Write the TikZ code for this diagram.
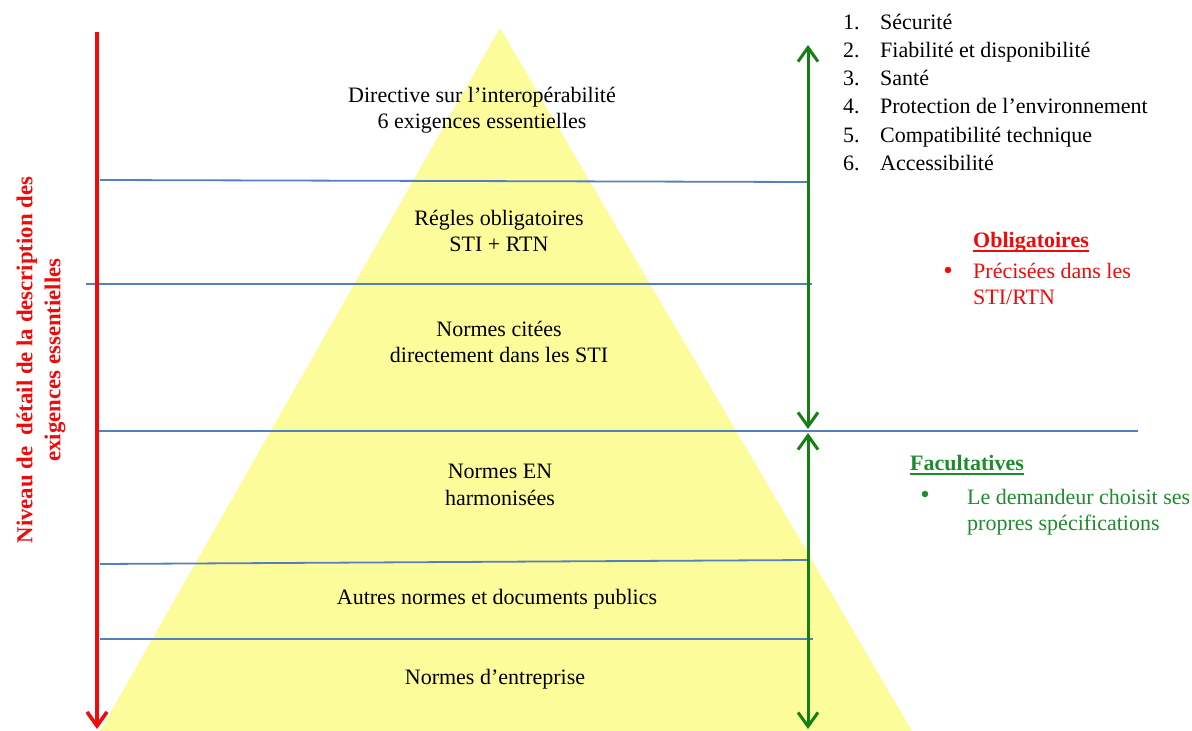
\documentclass[tikz,border=0pt]{standalone}
\usepackage{fontspec}
\setmainfont{Liberation Serif}
\usetikzlibrary{arrows.meta}
\definecolor{pyr}{RGB}{253,252,155}
\definecolor{bl}{RGB}{85,128,190}
\definecolor{rd}{RGB}{240,10,10}
\definecolor{gr}{RGB}{20,128,20}
\definecolor{grt}{RGB}{30,140,45}
\begin{document}
\begin{tikzpicture}[x=1pt,y=-1pt,
  lbl/.style={align=center,font=\fontsize{22}{26.5}\selectfont,inner sep=0pt},
  itm/.style={anchor=base west,font=\fontsize{22}{26.5}\selectfont,inner sep=0pt},
  sidetxt/.style={anchor=west,align=left,font=\fontsize{22}{26.5}\selectfont,inner sep=0pt},
  head/.style={anchor=base west,font=\fontsize{22}{26.5}\selectfont\bfseries,inner sep=0pt},
  uline/.style={line width=1.3pt},
  dot/.style={circle,fill,inner sep=0pt,minimum size=6.5pt},
  level/.style={bl,line width=1.8pt},
  redarrow/.style={rd,line width=3.6pt,-{Straight Barb[length=14pt,width=20pt]}},
  greenarrow/.style={gr,line width=3pt,{Straight Barb[length=14pt,width=20pt]}-{Straight Barb[length=14pt,width=20pt]}}]
\useasboundingbox (0,0) rectangle (1192,731);
% pyramid
\fill[pyr] (500,28) -- (912,731) -- (100,731) -- cycle;
% level lines
\draw[level] (100,180) -- (808,182);
\draw[level] (86,284) -- (812,284);
\draw[level] (95,431) -- (1138,431);
\draw[level] (100,564) -- (808,560);
\draw[level] (100,639) -- (813,639);
% arrows
\coordinate (r1) at (97,32);
\coordinate (r2) at (97,729);
\coordinate (g1) at (808,45);
\coordinate (g2) at (808,429);
\coordinate (g3) at (808,433);
\coordinate (g4) at (808,729);
\draw[redarrow] (r1) -- (r2);
\draw[greenarrow] (g1) -- (g2);
\draw[greenarrow] (g3) -- (g4);
% pyramid texts
\node[lbl] (t1) at (482,110) {Directive sur l’interopérabilité\\6 exigences essentielles};
\node[lbl] (t2) at (499,231) {Régles obligatoires\\STI + RTN};
\node[lbl] (t3) at (499,342) {Normes citées\\directement dans les STI};
\node[lbl] (t4) at (500,485) {Normes EN\\harmonisées};
\node[lbl,anchor=base] (t5) at (497,604) {Autres normes et documents publics};
\node[lbl,anchor=base] (t6) at (495,684) {Normes d’entreprise};
% left label
\node[lbl,rd,font=\fontsize{22.8}{28}\selectfont\bfseries,rotate=90] (side) at (41,360)
  {Niveau de~ détail de la description des\\exigences essentielles};
% list
\node[itm] (l1) at (843,29) {\makebox[37pt][l]{1.}Sécurité};
\node[itm] (l2) at (843,57) {\makebox[37pt][l]{2.}Fiabilité et disponibilité};
\node[itm] (l3) at (843,85) {\makebox[37pt][l]{3.}Santé};
\node[itm] (l4) at (843,113) {\makebox[37pt][l]{4.}Protection de l’environnement};
\node[itm] (l5) at (843,142) {\makebox[37pt][l]{5.}Compatibilité technique};
\node[itm] (l6) at (843,170) {\makebox[37pt][l]{6.}Accessibilité};
% obligatoires
\node[head,rd] (oh) at (973,247) {Obligatoires};
\draw[uline,rd] ([yshift=-4pt]oh.base west) -- ([yshift=-4pt]oh.base east);
\node[dot,rd] (ob) at (948,270) {};
\node[sidetxt,rd] (ot) at (973,284) {Précisées dans les\\STI/RTN};
% facultatives
\node[head,grt] (fh) at (910,470) {Facultatives};
\draw[uline,grt] ([yshift=-4pt]fh.base west) -- ([yshift=-4pt]fh.base east);
\node[dot,grt] (fb) at (925,494) {};
\node[sidetxt,grt] (ft) at (967,512) {Le demandeur choisit ses\\propres spécifications};
\end{tikzpicture}
\end{document}
